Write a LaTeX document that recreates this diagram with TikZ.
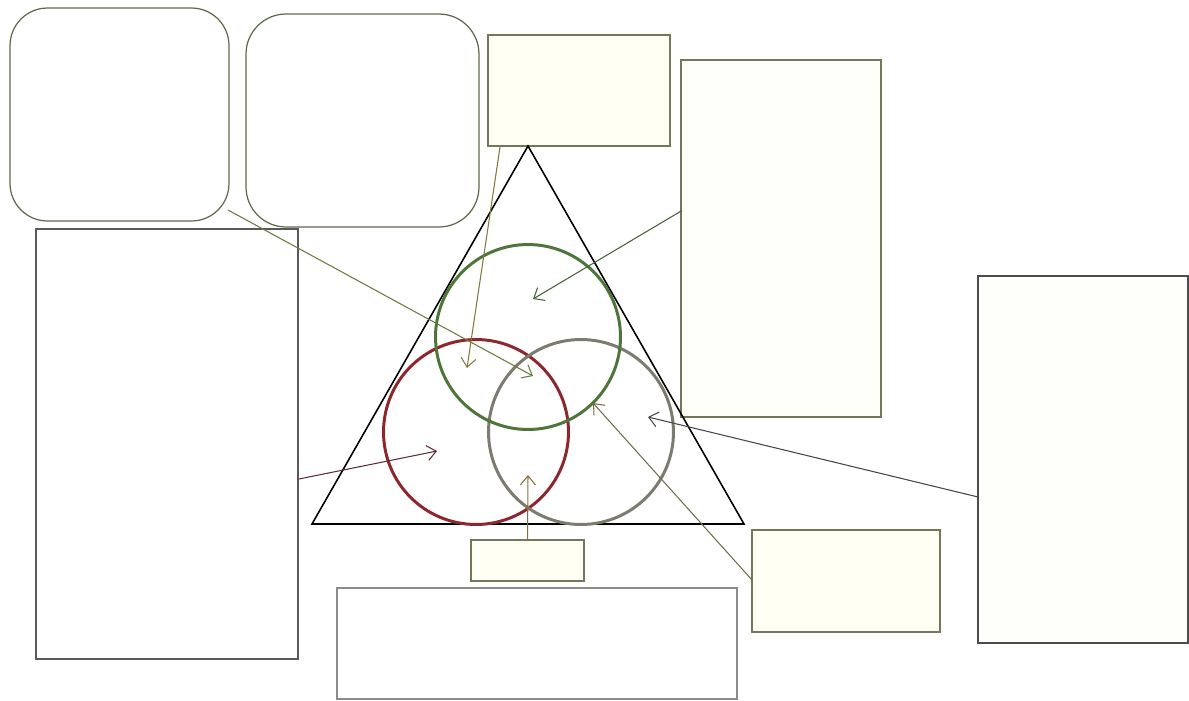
\documentclass[tikz,border=0pt]{standalone}
\usepackage{tikz}
\usetikzlibrary{arrows.meta, calc}
\definecolor{ivory}{rgb}{1,1,0.955}
\definecolor{paleivory}{rgb}{1,1,0.975}
\definecolor{edgeolive}{RGB}{118,118,88}
\definecolor{edgegreen}{RGB}{92,106,74}
\definecolor{ringgreen}{RGB}{78,118,58}
\definecolor{ringred}{RGB}{140,40,45}
\definecolor{ringgray}{RGB}{125,122,110}
\tikzset{
  rbox/.style   = {draw=edgegreen, line width=0.7pt, rounded corners=0.75cm, inner sep=0, outer sep=0},
  panel/.style  = {draw=edgeolive, line width=0.7pt, fill=white, inner sep=0, outer sep=0},
  note/.style   = {panel, fill=ivory},
  ring/.style   = {circle, line width=1.7pt, minimum size=3.7cm, inner sep=0},
  ptr/.style    = {-{Straight Barb[length=1.8mm, width=3mm]}, line width=0.6pt},
}

\begin{document}
\begin{tikzpicture}[x=0.02cm, y=-0.02cm]
  \useasboundingbox (0,0) rectangle (1189,700);

  % boxes
  \node[rbox, minimum width=4.38cm, minimum height=4.26cm] (boxA) at (119.5,114.5) {};
  \node[rbox, minimum width=4.66cm, minimum height=4.26cm, rounded corners=0.8cm] (boxB) at (362.5,120.5) {};
  \node[note, minimum width=3.64cm, minimum height=2.22cm] (boxC) at (579,90.5) {};
  \node[note, minimum width=4.00cm, minimum height=7.14cm, fill=paleivory] (boxD) at (781,238.5) {};
  \node[note, minimum width=4.20cm, minimum height=7.34cm, draw=black!70, fill=paleivory] (boxE) at (1083,459.5) {};
  \node[panel, minimum width=5.24cm, minimum height=8.60cm, draw=black!65] (boxF) at (167,444) {};
  \node[note, minimum width=2.26cm, minimum height=0.82cm] (boxG) at (527.5,560.5) {};
  \node[panel, minimum width=8.00cm, minimum height=2.22cm, draw=black!45] (boxH) at (537,643.5) {};
  \node[note, minimum width=3.76cm, minimum height=2.04cm] (boxI) at (846,581) {};

  % triangle
  \coordinate (apex) at (528,146);
  \coordinate (baseL) at (312,524);
  \coordinate (baseR) at (744,524);
  \draw[line width=0.9pt] (apex) -- (baseL) -- (baseR) -- cycle;

  % rings
  \node[ring, draw=ringred]   (ringL) at (476,432) {};
  \node[ring, draw=ringgray]  (ringR) at (581,432) {};
  \node[ring, draw=ringgreen] (ringT) at (528,337) {};

  % pointer tips
  \coordinate (tipA) at (533,376);
  \coordinate (tipC) at (467,368);
  \coordinate (tipD) at (533,299);
  \coordinate (tipF) at (437,451);
  \coordinate (tipE) at (648,417);
  \coordinate (tipI) at (593,403);
  \coordinate (tipG) at (528,475);

  \draw[ptr, color={rgb,255:red,110;green,122;blue,62}] ($(boxA.south east)+(-1,-11)$) -- (tipA);
  \draw[ptr, color={rgb,255:red,130;green,120;blue,62}] ($(boxC.south west)+(12,1)$) -- (tipC);
  \draw[ptr, color={rgb,255:red,70;green,96;blue,56}] ($(boxD.west)+(1,-28)$) -- (tipD);
  \draw[ptr, color={rgb,255:red,100;green,42;blue,52}] ($(boxF.east)+(1,35)$) -- (tipF);
  \draw[ptr, color={rgb,255:red,70;green,70;blue,70}] ($(boxE.west)+(0,37.5)$) -- (tipE);
  \draw[ptr, color={rgb,255:red,112;green,110;blue,72}] ($(boxI.west)+(0,-1)$) -- (tipI);
  \draw[ptr, color={rgb,255:red,132;green,112;blue,62}] (boxG.north) -- (tipG);
\end{tikzpicture}
\end{document}
